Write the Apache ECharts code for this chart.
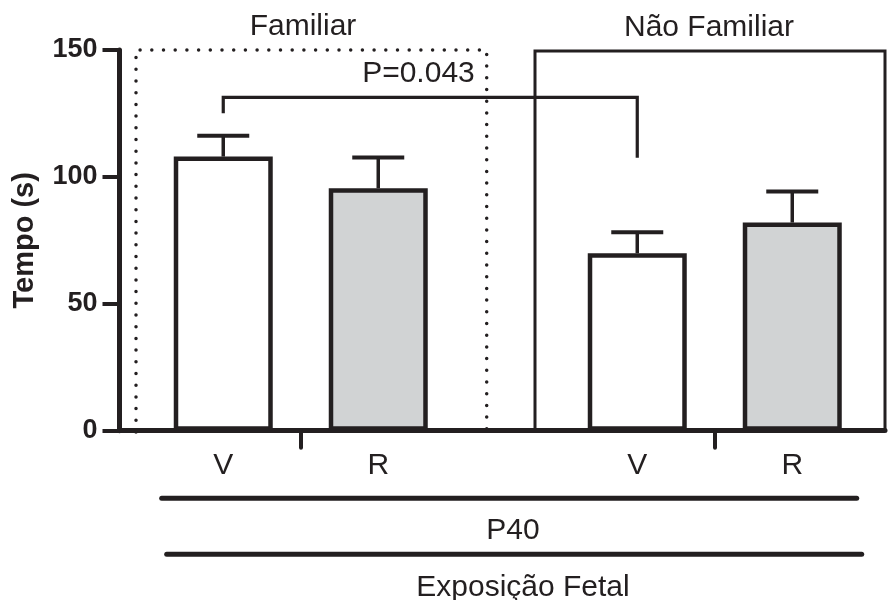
<!DOCTYPE html>
<html><head><meta charset="utf-8">
<script src="https://cdn.jsdelivr.net/npm/echarts@6/dist/echarts.min.js"></script>
<style>html,body{margin:0;padding:0;background:#fff}#c{width:888px;height:600px}</style>
</head><body><div id="c"></div>
<script>
// ---- data ----
const groups = ['Familiar', 'Não Familiar'];
const treatments = ['V', 'R'];
const vMeans = [108.0, 69.9];
const vSEM = [8.2, 8.3];
const rMeans = [95.5, 82.0];
const rSEM = [12.1, 12.2];
const yTicks = [0, 50, 100, 150];
const pText = 'P=0.043';
const bracketLevel = 131.3;
const bracketLeftEnd = 125.1;
const bracketRightEnd = 107.5;
const xTitle1 = 'P40';
const xTitle2 = 'Exposição Fetal';
const yTitle = 'Tempo (s)';

// ---- style ----
const DARK = '#231f20';
const GRAY = '#d1d3d4';
const FONT = '"Liberation Sans", Arial, sans-serif';
const BAR_W = 99;
const BAR_GAP = 155 / 99 - 1;
const OFFSET = BAR_W * (1 + BAR_GAP) / 2;

const chart = echarts.init(document.getElementById('c'), null, {renderer: 'canvas'});

function errRender(offset, name) {
  return function (params, api) {
    const x = api.value(0), m = api.value(1), s = api.value(2);
    const b = api.coord([x, m]);
    const t = api.coord([x, m + s]);
    const z0 = api.coord([x, 0]);
    const cx = b[0] + offset;
    return {
      type: 'group', children: [
        {type: 'line', shape: {x1: cx, y1: b[1], x2: cx, y2: t[1]}, style: {stroke: DARK, lineWidth: 3.5}},
        {type: 'line', shape: {x1: cx - 26, y1: t[1], x2: cx + 26, y2: t[1]}, style: {stroke: DARK, lineWidth: 4}},
        {type: 'text', x: cx, y: z0[1] + 35, style: {text: name, fill: DARK, font: '30px ' + FONT, align: 'center', verticalAlign: 'middle'}}
      ]
    };
  };
}

const option = {
  animation: false,
  backgroundColor: '#fff',
  grid: {left: 119.5, right: 3, top: 50, bottom: 169.3, containLabel: false},
  xAxis: {
    type: 'value', min: -0.4378, max: 1.4112,
    axisLine: {show: true, onZero: false, lineStyle: {color: DARK, width: 5}},
    axisTick: {show: true, inside: false, length: 17, customValues: groups.map((g, i) => i), lineStyle: {color: DARK, width: 4, cap: 'round'}},
    axisLabel: {show: false},
    splitLine: {show: false}
  },
  yAxis: {
    type: 'value', min: yTicks[0], max: yTicks[yTicks.length - 1], interval: yTicks[1] - yTicks[0],
    name: yTitle, nameLocation: 'middle', nameGap: 80, nameRotate: 90,
    nameTextStyle: {color: DARK, fontFamily: FONT, fontWeight: 'bold', fontSize: 29},
    axisLine: {show: true, onZero: false, lineStyle: {color: DARK, width: 5}},
    axisTick: {show: true, inside: false, length: 17, lineStyle: {color: DARK, width: 4}},
    axisLabel: {color: DARK, fontFamily: FONT, fontWeight: 'bold', fontSize: 27, margin: 22},
    splitLine: {show: false}
  },
  series: [
    {
      name: treatments[0], type: 'bar', barWidth: BAR_W, barGap: (BAR_GAP * 100) + '%',
      data: vMeans.map((v, i) => [i, v]),
      itemStyle: {color: '#ffffff', borderColor: DARK, borderWidth: 4.5}, z: 3
    },
    {
      name: treatments[1], type: 'bar', barWidth: BAR_W, barGap: (BAR_GAP * 100) + '%',
      data: rMeans.map((v, i) => [i, v]),
      itemStyle: {color: GRAY, borderColor: DARK, borderWidth: 4.5}, z: 3
    },
    {
      type: 'custom', name: 'errV', renderItem: errRender(-OFFSET, treatments[0]),
      data: vMeans.map((v, i) => [i, v, vSEM[i]]), encode: {x: 0, y: 1}, z: 2, silent: true
    },
    {
      type: 'custom', name: 'errR', renderItem: errRender(OFFSET, treatments[1]),
      data: rMeans.map((v, i) => [i, v, rSEM[i]]), encode: {x: 0, y: 1}, z: 2, silent: true
    },
    {
      type: 'custom', name: 'bracket', silent: true, z: 4,
      data: [[0, bracketLevel]], encode: {x: 0, y: 1},
      renderItem: function (params, api) {
        const l = api.coord([0, bracketLevel]);
        const r = api.coord([1, bracketLevel]);
        const le = api.coord([0, bracketLeftEnd]);
        const re = api.coord([1, bracketRightEnd]);
        const x1 = l[0] - OFFSET, x2 = r[0] - OFFSET;
        const pt = api.coord([0, 140.6]);
        return {
          type: 'group', children: [
            {type: 'polyline', shape: {points: [[x1, le[1]], [x1, l[1]], [x2, l[1]], [x2, re[1]]]}, style: {stroke: DARK, lineWidth: 3.2, fill: null}},
            {type: 'text', x: pt[0] + 174, y: pt[1], style: {text: pText, fill: DARK, font: '30px ' + FONT, align: 'right', verticalAlign: 'middle'}}
          ]
        };
      }
    }
  ],
  graphic: [
    {type: 'polyline', shape: {points: [[136, 432], [136, 50], [486.7, 50], [486.7, 432]]},
      style: {stroke: DARK, lineWidth: 3.5, lineDash: [0, 11.7], lineCap: 'round', fill: null}, z: 1},
    {type: 'polyline', shape: {points: [[535, 430], [535, 51], [885, 51], [885, 430]]},
      style: {stroke: DARK, lineWidth: 3, fill: null}, z: 1},
    {type: 'text', x: 303, y: 27, style: {text: groups[0], fill: DARK, font: '30px ' + FONT, align: 'center', verticalAlign: 'middle'}},
    {type: 'text', x: 709, y: 28, style: {text: groups[1], fill: DARK, font: '30px ' + FONT, align: 'center', verticalAlign: 'middle'}},
    {type: 'line', shape: {x1: 161.7, y1: 498.3, x2: 856.7, y2: 498.3}, style: {stroke: DARK, lineWidth: 5, lineCap: 'round'}},
    {type: 'text', x: 513, y: 531, style: {text: xTitle1, fill: DARK, font: '30px ' + FONT, align: 'center', verticalAlign: 'middle'}},
    {type: 'line', shape: {x1: 166.7, y1: 554.3, x2: 861.7, y2: 554.3}, style: {stroke: DARK, lineWidth: 5, lineCap: 'round'}},
    {type: 'text', x: 523, y: 588, style: {text: xTitle2, fill: DARK, font: '30px ' + FONT, align: 'center', verticalAlign: 'middle'}}
  ]
};
chart.setOption(option);
</script>
</body></html>
